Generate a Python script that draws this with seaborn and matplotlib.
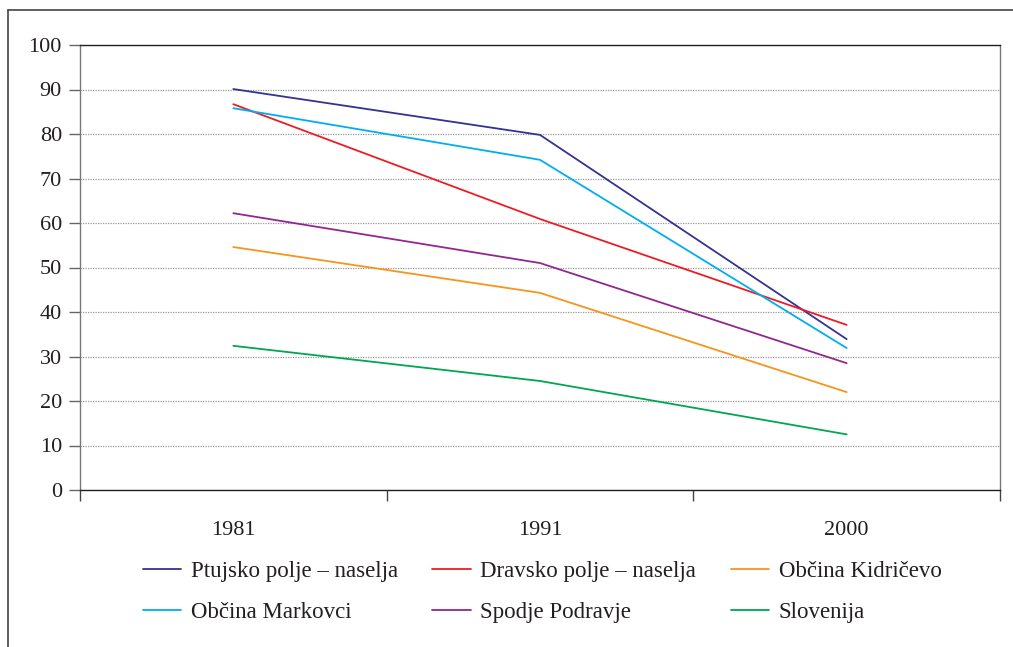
import pandas as pd
import seaborn as sns
import matplotlib.pyplot as plt
from matplotlib.lines import Line2D

# values
years = ["1981", "1991", "2000"]
ptujsko = [90.1, 79.8, 33.9]
dravsko = [86.7, 60.9, 37.1]
kidricevo = [54.6, 44.3, 22.0]
markovci = [85.8, 74.2, 31.9]
spodnje = [62.2, 51.0, 28.5]
slovenija = [32.4, 24.5, 12.5]

series_names = ["Ptujsko polje – naselja", "Dravsko polje – naselja", "Občina Kidričevo",
                "Občina Markovci", "Spodje Podravje", "Slovenija"]
series_values = [ptujsko, dravsko, kidricevo, markovci, spodnje, slovenija]
colors = ["#333391", "#ED1C24", "#F7941D", "#00AEEF", "#92278F", "#00A651"]

rows = []
for name, vals in zip(series_names, series_values):
    for i, v in enumerate(vals):
        rows.append({"pos": i, "year": years[i], "value": v, "series": name})
df = pd.DataFrame(rows)

sns.set_style("white")
plt.rcParams['font.family'] = ['Liberation Serif', 'DejaVu Serif']

fig = plt.figure(figsize=(10.13, 6.47), dpi=100)
W, H = 1013, 647
ax = fig.add_axes([80 / W, 1 - 490 / H, (1000 - 80) / W, (490 - 45) / H])

sns.lineplot(data=df, x="pos", y="value", hue="series", hue_order=series_names,
             palette=colors, linewidth=1.3, ax=ax, legend=False)

ax.set_xlim(-0.5, 2.5)
ax.set_ylim(0, 100)
ax.set_yticks(range(0, 101, 10))
ax.set_xticks([0, 1, 2])
ax.set_xticklabels(years)
ax.set_xticks([-0.5, 0.5, 1.5, 2.5], minor=True)
ax.tick_params(axis="x", which="major", bottom=True, length=0, pad=22, labelsize=16,
               colors="#231f20")
ax.tick_params(axis="x", which="minor", bottom=True, length=8, width=1, direction="out",
               color="#444444")
ax.tick_params(axis="y", left=True, length=8, width=1, direction="out", color="#666666",
               labelsize=16, labelcolor="#231f20", pad=5)
ax.yaxis.grid(True, linestyle=(0, (1, 1)), color="#999999", linewidth=0.9)
ax.set_axisbelow(True)
ax.set_xlabel("")
ax.set_ylabel("")

ax.spines["top"].set_color("#222222")
ax.spines["bottom"].set_color("#222222")
ax.spines["left"].set_color("#777777")
ax.spines["right"].set_color("#777777")
for s in ax.spines.values():
    s.set_linewidth(1.0)

# legend fills column by column, so reorder to get row-wise reading order
order = [0, 3, 1, 4, 2, 5]
handles = [Line2D([0], [0], color=colors[i], linewidth=1.3) for i in order]
labels = [series_names[i] for i in order]
fig.legend(handles, labels, loc="center", ncol=3,
           bbox_to_anchor=(542 / W, 1 - 592 / H), frameon=False,
           fontsize=16.5, handlelength=1.7, handletextpad=0.4,
           columnspacing=1.5, labelspacing=0.85, labelcolor="#231f20")

# outer frame (left and top edges)
fig.add_artist(Line2D([8 / W, 8 / W], [0, 1 - 10 / H], color="#444444", linewidth=1.2))
fig.add_artist(Line2D([8 / W, 1], [1 - 10 / H, 1 - 10 / H], color="#444444", linewidth=1.2))

fig.savefig("out.png", dpi=100)
